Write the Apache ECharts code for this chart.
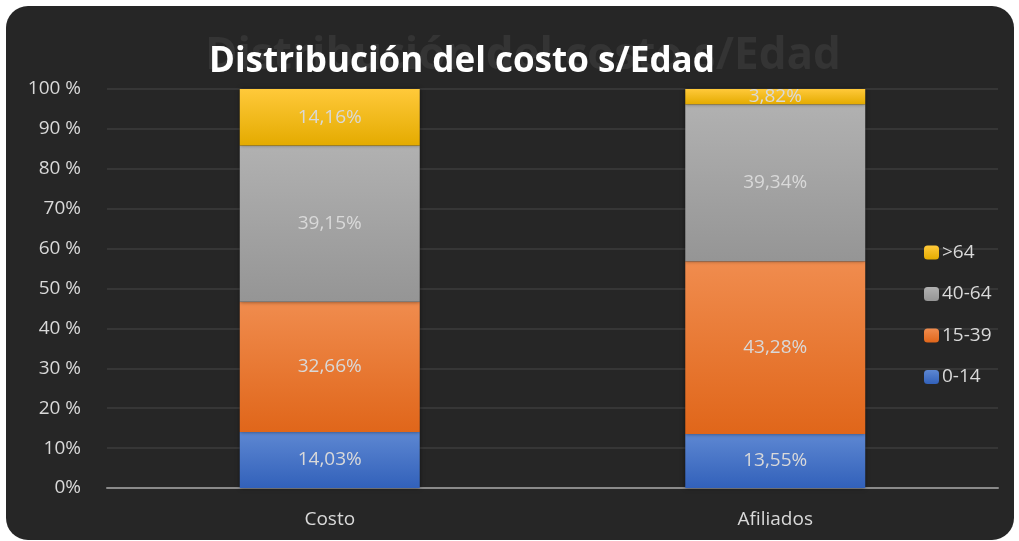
<!DOCTYPE html>
<html>
<head>
<meta charset="utf-8">
<script src="https://cdn.jsdelivr.net/npm/echarts@6/dist/echarts.min.js"></script>
<style>
  html, body { margin: 0; padding: 0; background: #ffffff; }
  #wrap { position: relative; width: 1019px; height: 541px; overflow: hidden; }
  #bg { position: absolute; left: 6px; top: 6px; width: 1008px; height: 534px;
        background: #262626; border-radius: 22px; }
  #chart { position: absolute; left: 0; top: 0; width: 1019px; height: 541px; }
</style>
</head>
<body>
<div id="wrap">
  <div id="bg"></div>
  <div id="chart"></div>
</div>
<script>
// based on prepared DOM, initialize echarts instance
var myChart = echarts.init(document.getElementById('chart'));

var categories = ['Costo', 'Afiliados'];
var groups = ['0-14', '15-39', '40-64', '>64'];
var s0_14 = [14.03, 13.55];
var s15_39 = [32.66, 43.28];
var s40_64 = [39.15, 39.34];
var s64 = [14.16, 3.82];
var yTicks = ['0%', '10%', '20 %', '30 %', '40 %', '50 %', '60 %', '70%', '80 %', '90 %', '100 %'];

var seriesValues = [s0_14, s15_39, s40_64, s64];
var colorStops = [
    ['#5d87d2', '#3261ba'],
    ['#f08c4e', '#e0661a'],
    ['#b1b1b1', '#959595'],
    ['#ffc93a', '#e4ab00']
];

function grad(c) {
    return new echarts.graphic.LinearGradient(0, 0, 0, 1, [
        { offset: 0, color: c[0] },
        { offset: 1, color: c[1] }
    ]);
}

var series = [];
for (var i = 0; i < groups.length; i++) {
    series.push({
        name: groups[i],
        type: 'bar',
        stack: 'total',
        barWidth: '40.4%',
        data: seriesValues[i],
        itemStyle: {
            color: grad(colorStops[i]),
            shadowBlur: 4,
            shadowColor: 'rgba(0,0,0,0.5)'
        },
        label: {
            show: true,
            position: 'inside',
            color: '#d9d9d9',
            fontSize: 19,
            fontFamily: 'Open Sans',
            formatter: function (p) {
                return p.value.toFixed(2).replace('.', ',') + '%';
            }
        }
    });
}

option = {
    animation: false,
    backgroundColor: 'transparent',
    title: [
        {
            text: 'Distribución del costo s/Edad',
            left: 200,
            top: 29,
            textStyle: {
                color: '#343434',
                fontSize: 44,
                fontWeight: 'bold',
                fontFamily: 'Open Sans'
            }
        },
        {
            text: 'Distribución del costo s/Edad',
            left: 204,
            top: 40,
            textStyle: {
                color: '#ffffff',
                fontSize: 35,
                fontWeight: 'bold',
                fontFamily: 'Open Sans'
            }
        }
    ],
    legend: {
        orient: 'vertical',
        left: 919,
        top: 238,
        itemWidth: 15,
        itemHeight: 14,
        itemGap: 22.5,
        data: ['>64', '40-64', '15-39', '0-14'],
        textStyle: {
            color: '#d9d9d9',
            fontSize: 19,
            fontFamily: 'Open Sans',
            padding: [12, 0, 0, -2]
        }
    },
    grid: {
        left: 107,
        right: 21,
        top: 89,
        bottom: 53
    },
    xAxis: {
        type: 'category',
        data: categories,
        axisLine: { lineStyle: { color: '#8a8a8a', width: 2 } },
        axisTick: { show: false },
        axisLabel: {
            color: '#d9d9d9',
            fontSize: 19,
            fontFamily: 'Open Sans',
            margin: 22
        }
    },
    yAxis: {
        type: 'value',
        min: 0,
        max: 100,
        interval: 10,
        axisLine: { show: false },
        axisTick: { show: false },
        splitLine: { lineStyle: { color: '#3c3c3c', width: 1.5 } },
        axisLabel: {
            color: '#d9d9d9',
            fontSize: 19,
            fontFamily: 'Open Sans',
            margin: 26,
            formatter: function (v) { return yTicks[Math.round(v / 10)]; }
        }
    },
    series: series
};

// use configuration item and data specified to show chart
myChart.setOption(option);
</script>
</body>
</html>
